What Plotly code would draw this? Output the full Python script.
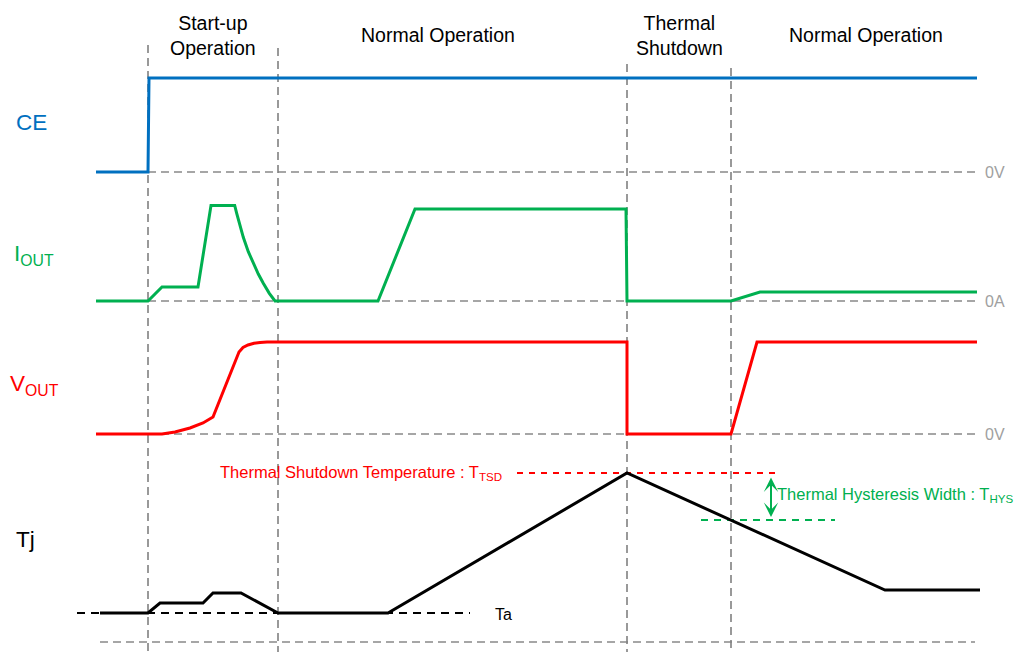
import plotly.graph_objects as go

# ---- data (time axis and level axis share the diagram's units) ----
ce_t = [96, 148, 149, 977]
ce_y = [172, 172, 78, 78]

iout_t = [96, 148, 162, 198, 211, 234.7, 236.7, 240, 243.3, 248.3, 253.3, 258.3, 263.3, 269.3, 275,
          378, 415, 626, 627, 731, 760, 977]
iout_y = [301, 301, 287, 287, 205.5, 205.5, 213.3, 226.7, 237.3, 251.7, 263.3, 274, 283.3, 293.3, 301,
          301, 209, 209, 301, 301, 292, 292]

vout_t = [96, 162, 175, 190, 203, 213, 239, 243, 248, 254, 260, 267, 627, 627, 731, 757, 977]
vout_y = [434, 434, 432, 428, 423, 417, 352, 347.5, 345, 343.3, 342.5, 342, 342, 434, 434, 342, 342]

tj_t = [100, 148, 160, 203, 213, 241, 278, 388, 627, 885, 980]
tj_y = [613, 613, 603, 603, 593, 593, 613, 613, 473, 590, 590]

boundary_t = [148, 278, 627, 731]
boundary_top = [45, 48, 64, 68]

zero_levels = [172, 301, 434]
zero_labels = ["0V", "0A", "0V"]
zero_start = [148, 148, 148]

ta_level = 613
tsd_level = 473
hys_level = 520
floor_level = 642

phase_x = [213, 438, 679, 866]
phase_labels = ["Start-up<br>Operation", "Normal Operation", "Thermal<br>Shutdown", "Normal Operation"]
phase_y = [35, 35, 35, 35]

sig_names = ["CE", "I<sub>OUT</sub>", "V<sub>OUT</sub>", "Tj"]
sig_label_x = [14, 12, 8, 14]
sig_label_y = [122, 255, 385, 539]

BLUE = "#0070C0"
GREEN = "#00B050"
RED = "#FF0000"
GRAY = "#A6A6A6"
FONT = "Arial, Liberation Sans, sans-serif"

fig = go.Figure()

# gray dashed reference lines
for lvl, x0 in zip(zero_levels, zero_start):
    fig.add_trace(go.Scatter(x=[x0, 975], y=[lvl, lvl], mode="lines",
                             line=dict(color=GRAY, width=2, dash="8px,5px"), hoverinfo="skip"))
fig.add_trace(go.Scatter(x=[100, 975], y=[floor_level, floor_level], mode="lines",
                         line=dict(color=GRAY, width=2, dash="8px,5px"), hoverinfo="skip"))
for bx, top in zip(boundary_t, boundary_top):
    fig.add_trace(go.Scatter(x=[bx, bx], y=[top, 652], mode="lines",
                             line=dict(color="#808080", width=1.6, dash="8px,5px"), hoverinfo="skip"))

# Ta dashed line
fig.add_trace(go.Scatter(x=[77, 470], y=[ta_level, ta_level], mode="lines",
                         line=dict(color="black", width=2, dash="8px,6px"), hoverinfo="skip"))
# TSD and hysteresis dashed lines
fig.add_trace(go.Scatter(x=[517, 781], y=[tsd_level, tsd_level], mode="lines",
                         line=dict(color=RED, width=1.8, dash="6px,6px"), hoverinfo="skip"))
fig.add_trace(go.Scatter(x=[701, 835], y=[hys_level, hys_level], mode="lines",
                         line=dict(color=GREEN, width=1.8, dash="7px,6px"), hoverinfo="skip"))

# signals
fig.add_trace(go.Scatter(x=ce_t, y=ce_y, mode="lines", line=dict(color=BLUE, width=3)))
fig.add_trace(go.Scatter(x=iout_t, y=iout_y, mode="lines", line=dict(color=GREEN, width=3)))
fig.add_trace(go.Scatter(x=vout_t, y=vout_y, mode="lines", line=dict(color=RED, width=3)))
fig.add_trace(go.Scatter(x=tj_t, y=tj_y, mode="lines", line=dict(color="black", width=3)))

annotations = []
for x, y, t in zip(phase_x, phase_y, phase_labels):
    annotations.append(dict(x=x, y=y, text=t, showarrow=False, xref="x", yref="y",
                            font=dict(family=FONT, size=19.5, color="black"), align="center"))
label_colors = [BLUE, GREEN, RED, "black"]
for x, y, t, c in zip(sig_label_x, sig_label_y, sig_names, label_colors):
    annotations.append(dict(x=x, y=y, text=t, showarrow=False, xanchor="left", xref="x", yref="y",
                            font=dict(family=FONT, size=22.5, color=c)))
for lvl, t in zip(zero_levels, zero_labels):
    annotations.append(dict(x=983, y=lvl, text=t, showarrow=False, xanchor="left", xref="x", yref="y",
                            font=dict(family=FONT, size=16, color="#A0A0A0")))
annotations.append(dict(x=493, y=ta_level + 1, text="Ta", showarrow=False, xanchor="left",
                        font=dict(family=FONT, size=16, color="black")))
annotations.append(dict(x=504, y=tsd_level, text="Thermal Shutdown Temperature : T<sub>TSD</sub>",
                        showarrow=False, xanchor="right",
                        font=dict(family=FONT, size=16.5, color=RED)))
annotations.append(dict(x=775, y=495, text="Thermal Hysteresis Width : T<sub>HYS</sub>",
                        showarrow=False, xanchor="left",
                        font=dict(family=FONT, size=16.5, color=GREEN)))
# double arrow for hysteresis width
annotations.append(dict(x=771, y=hys_level - 3, ax=771, ay=tsd_level + 3, xref="x", yref="y",
                        axref="x", ayref="y", text="", showarrow=True, arrowside="end+start",
                        arrowhead=3, arrowsize=1.2, arrowwidth=2, arrowcolor=GREEN))

fig.update_layout(
    width=1015, height=652, margin=dict(l=0, r=0, t=0, b=0),
    paper_bgcolor="white", plot_bgcolor="white", showlegend=False,
    xaxis=dict(range=[0, 1015], visible=False, fixedrange=True),
    yaxis=dict(range=[652, 0], visible=False, fixedrange=True),
    annotations=annotations,
)

fig.write_html("out.html", config={"displayModeBar": False},
               post_script="document.body.style.margin='0';")
